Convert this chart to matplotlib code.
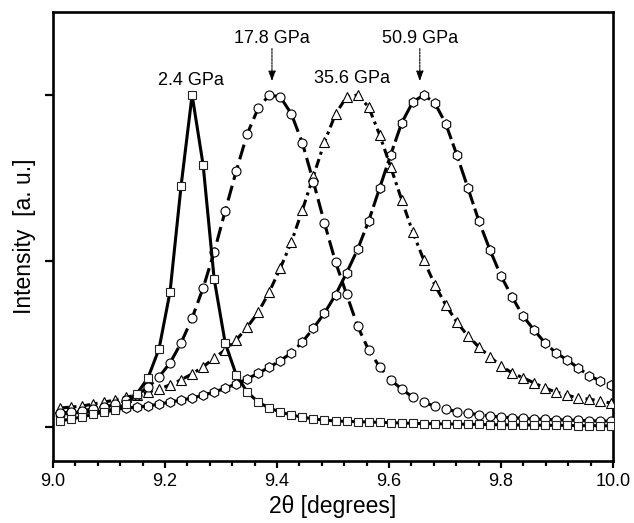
import matplotlib.pyplot as plt
from matplotlib.ticker import MultipleLocator
import numpy as np

plt.rcParams['font.family'] = ['Liberation Sans', 'DejaVu Sans']

# 2-theta sampling shared by all four patterns
two_theta = np.round(9.012 + 0.0197 * np.arange(51), 4)

p_2_4 = [0.018, 0.024, 0.030, 0.038, 0.045, 0.051, 0.070, 0.100, 0.148, 0.235,
         0.407, 0.726, 1.000, 0.789, 0.446, 0.253, 0.157, 0.105, 0.075, 0.057,
         0.045, 0.036, 0.030, 0.024, 0.021, 0.018, 0.017, 0.016, 0.015, 0.014,
         0.013, 0.012, 0.011, 0.010, 0.010, 0.009, 0.009, 0.008, 0.008, 0.007,
         0.007, 0.006, 0.006, 0.006, 0.005, 0.005, 0.005, 0.004, 0.004, 0.004,
         0.003]

p_17_8 = [0.042, 0.045, 0.049, 0.054, 0.060, 0.068, 0.080, 0.096, 0.120, 0.151,
          0.193, 0.253, 0.328, 0.419, 0.527, 0.651, 0.771, 0.883, 0.961, 1.000,
          0.994, 0.943, 0.855, 0.738, 0.614, 0.497, 0.400, 0.304, 0.232, 0.181,
          0.142, 0.114, 0.090, 0.075, 0.062, 0.054, 0.046, 0.042, 0.037, 0.033,
          0.030, 0.028, 0.026, 0.024, 0.023, 0.022, 0.021, 0.020, 0.019, 0.018,
          0.018]

p_35_6 = [0.057, 0.060, 0.063, 0.069, 0.075, 0.081, 0.090, 0.096, 0.105, 0.114,
          0.127, 0.142, 0.160, 0.181, 0.208, 0.232, 0.262, 0.301, 0.346, 0.407,
          0.479, 0.557, 0.654, 0.756, 0.858, 0.943, 0.994, 1.000, 0.964, 0.880,
          0.783, 0.684, 0.587, 0.503, 0.428, 0.367, 0.316, 0.274, 0.241, 0.211,
          0.184, 0.163, 0.148, 0.133, 0.117, 0.105, 0.096, 0.087, 0.084, 0.078,
          0.072]

p_50_9 = [0.039, 0.042, 0.045, 0.045, 0.048, 0.054, 0.057, 0.060, 0.063, 0.069,
          0.075, 0.081, 0.087, 0.096, 0.105, 0.117, 0.130, 0.145, 0.162, 0.180,
          0.200, 0.223, 0.256, 0.298, 0.343, 0.398, 0.464, 0.535, 0.620, 0.720,
          0.820, 0.916, 0.979, 1.000, 0.976, 0.913, 0.819, 0.720, 0.620, 0.533,
          0.455, 0.392, 0.334, 0.292, 0.253, 0.223, 0.202, 0.178, 0.154, 0.139,
          0.127]

pressures = ["2.4 GPa", "17.8 GPa", "35.6 GPa", "50.9 GPa"]
label_x = [9.246, 9.391, 9.534, 9.655]
label_y = [1.045, 1.169, 1.051, 1.169]

fig = plt.figure(figsize=(6.34, 5.23), dpi=100)
ax = fig.add_axes([53 / 634, 62 / 523, 560 / 634, 449 / 523])

ax.plot(two_theta, p_2_4, color='k', lw=2.2, ls='-',
        marker='s', ms=5.6, mfc='white', mec='#222222', mew=0.8, zorder=5)
ax.plot(two_theta, p_17_8, color='k', lw=2.2, ls=(0, (5, 2)),
        marker='o', ms=6.5, mfc='white', mec='k', mew=0.8, zorder=4)
ax.plot(two_theta, p_35_6, color='k', lw=2.2, ls=(0, (3, 1.5, 1, 1.5)),
        marker='^', ms=7.2, mfc='white', mec='k', mew=0.8, zorder=3)
ax.plot(two_theta, p_50_9, color='k', lw=2.2, ls=(0, (6, 1.5)),
        marker='h', ms=7, mfc='white', mec='k', mew=0.8, zorder=2)

for name, tx, ty in zip(pressures, label_x, label_y):
    ax.text(tx, ty, name, ha='center', va='center', fontsize=13)

# dashed arrows pointing at the two high peaks
for tx in [label_x[1], label_x[3]]:
    ax.annotate("", xy=(tx, 1.042), xytext=(tx, 1.14),
                arrowprops=dict(arrowstyle='-|>,head_length=0.6,head_width=0.22',
                                ls=(0, (2, 1)), lw=0.8, color='k',
                                shrinkA=0, shrinkB=0))

ax.set_xlim(9.0, 10.0)
ax.set_ylim(-0.1024, 1.25)
ax.xaxis.set_major_locator(MultipleLocator(0.2))
ax.xaxis.set_minor_locator(MultipleLocator(0.04))
ax.set_yticks([0, 0.5, 1.0])
ax.set_yticklabels([])
ax.xaxis.set_major_formatter(plt.FormatStrFormatter('%.1f'))

for s in ax.spines.values():
    s.set_linewidth(1.9)
ax.tick_params(axis='x', which='major', direction='out', length=5, width=1.6,
               labelsize=13, pad=4)
ax.tick_params(axis='x', which='minor', direction='out', length=3.3, width=1.6)
ax.tick_params(axis='y', direction='out', length=5.8, width=1.6)

ax.set_xlabel("2\u03b8 [degrees]", fontsize=16.5, labelpad=3)
ax.set_ylabel("Intensity  [a. u.]", fontsize=16.5, labelpad=3)

fig.savefig('out.png', dpi=100)
